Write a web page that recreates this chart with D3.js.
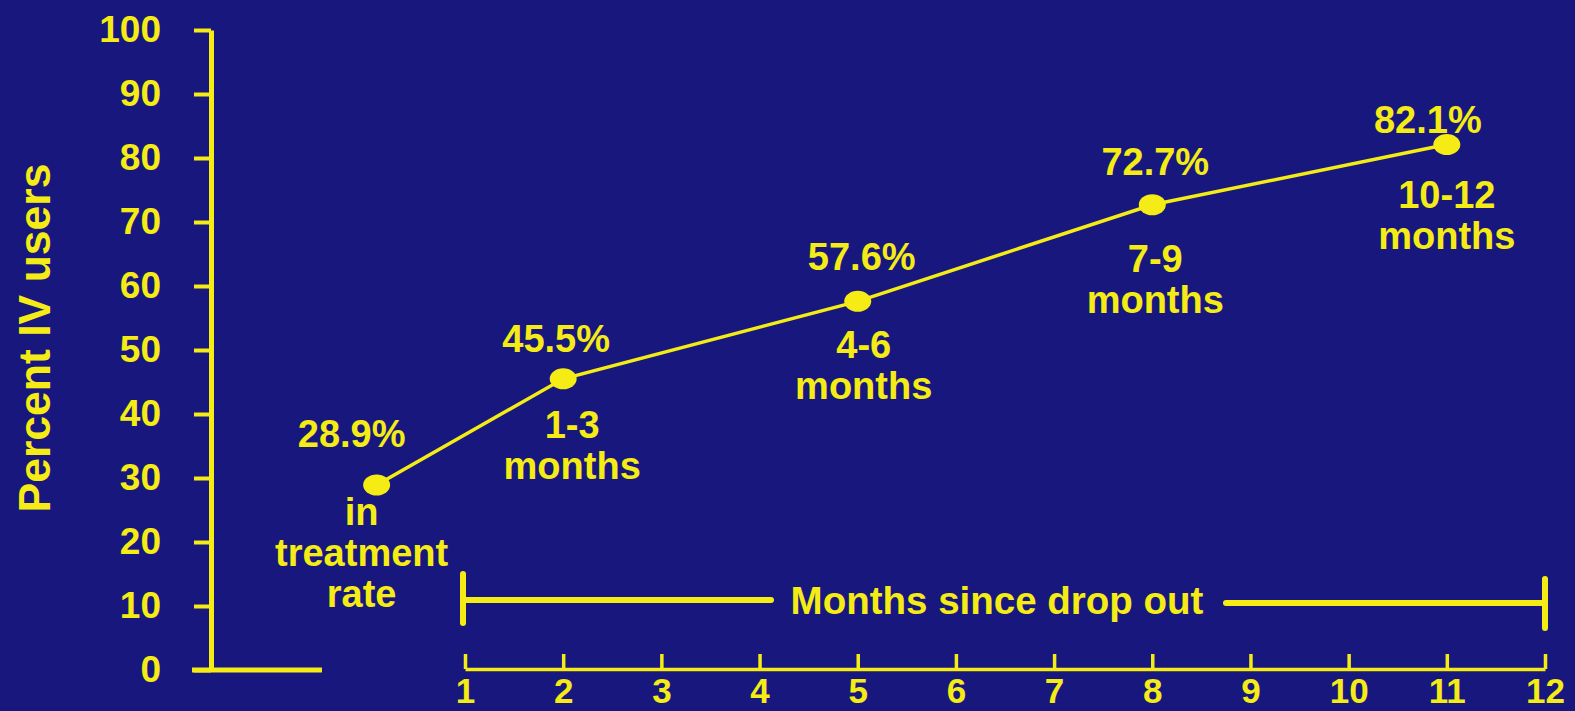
<!DOCTYPE html>
<html>
<head>
<meta charset="utf-8">
<script src="https://cdn.jsdelivr.net/npm/d3@7"></script>
<style>
  html, body { margin: 0; padding: 0; background: #18177d; }
  svg { display: block; }
  text { font-family: "Liberation Sans", Arial, Helvetica, sans-serif; font-weight: bold; }
</style>
</head>
<body>
<svg id="chart" width="1575" height="711"></svg>
<script>
// Share of IV drug users, in treatment and by months since dropping out
const periods = ["in treatment rate", "1-3 months", "4-6 months", "7-9 months", "10-12 months"];
const periodLines = [["in", "treatment", "rate"], ["1-3", "months"], ["4-6", "months"], ["7-9", "months"], ["10-12", "months"]];
const monthPos = [0.1, 2, 5, 8, 11];        // where each period sits on the month axis
const percentIV = [28.9, 45.5, 57.6, 72.7, 82.1];
const valueLabels = ["28.9%", "45.5%", "57.6%", "72.7%", "82.1%"];
const yTicks = [0, 10, 20, 30, 40, 50, 60, 70, 80, 90, 100];
const monthTicks = [1, 2, 3, 4, 5, 6, 7, 8, 9, 10, 11, 12];

// Hand-placed label nudges (dx, dy) relative to each point
const valueNudge = [[-25, -38], [-7, -27], [4, -31], [3, -30], [-19, -12]];
const periodNudge = [[-15, 40], [9, 59], [6, 57], [3, 67], [0, 63]];

const YELLOW = "#f4ec14";
const svg = d3.select("#chart");

const y = d3.scaleLinear().domain([0, 100]).range([670, 30]);
const x = d3.scaleLinear().domain([1, 12]).range([465, 1545]);

// Y axis
const yAxis = d3.axisLeft(y).tickValues(yTicks).tickSize(17).tickSizeOuter(0).tickPadding(33);
const gy = svg.append("g").attr("transform", "translate(211,0)").call(yAxis);
gy.select(".domain").attr("stroke", YELLOW).attr("stroke-width", 5);
gy.selectAll(".tick line").attr("stroke", YELLOW).attr("stroke-width", 4);
gy.selectAll(".tick text").attr("fill", YELLOW).attr("font-size", 37)
  .attr("font-family", "Liberation Sans, Arial, sans-serif").attr("font-weight", "bold");

// short baseline segment under the in-treatment point
svg.append("line").attr("x1", 192).attr("x2", 322).attr("y1", y(0)).attr("y2", y(0))
  .attr("stroke", YELLOW).attr("stroke-width", 5);

// Y axis title
svg.append("text")
  .attr("transform", `translate(50,338) rotate(-90)`)
  .attr("text-anchor", "middle")
  .attr("fill", YELLOW).attr("font-size", 44.5)
  .text("Percent IV users");

// Month axis
const xAxis = d3.axisBottom(x).tickValues(monthTicks).tickSizeInner(-15).tickSizeOuter(0).tickPadding(9);
const gx = svg.append("g").attr("transform", "translate(0,669)").call(xAxis);
gx.select(".domain").attr("stroke", YELLOW).attr("stroke-width", 3.5);
gx.selectAll(".tick line").attr("stroke", YELLOW).attr("stroke-width", 3.5);
gx.selectAll(".tick text").attr("fill", YELLOW).attr("font-size", 35)
  .attr("font-family", "Liberation Sans, Arial, sans-serif").attr("font-weight", "bold");

// "Months since drop out" bracket
const bracket = svg.append("g").attr("stroke", YELLOW).attr("stroke-width", 6).attr("stroke-linecap", "round");
bracket.append("line").attr("x1", x(1) - 2).attr("x2", x(1) - 2).attr("y1", 574).attr("y2", 623);
bracket.append("line").attr("x1", x(1) - 2).attr("x2", 771).attr("y1", 600).attr("y2", 600);
bracket.append("line").attr("x1", 1226).attr("x2", x(12)).attr("y1", 603).attr("y2", 603);
bracket.append("line").attr("x1", x(12)).attr("x2", x(12)).attr("y1", 579).attr("y2", 628);
svg.append("text").attr("x", 997).attr("y", 614).attr("text-anchor", "middle")
  .attr("fill", YELLOW).attr("font-size", 38.5).text("Months since drop out");

// Data line and points
const pts = percentIV.map((v, i) => ({ v, i, px: x(monthPos[i]), py: y(v) }));
svg.append("path")
  .datum(pts)
  .attr("fill", "none").attr("stroke", YELLOW).attr("stroke-width", 3.5)
  .attr("d", d3.line().x(d => d.px).y(d => d.py));
svg.selectAll("ellipse.pt").data(pts).join("ellipse")
  .attr("class", "pt")
  .attr("cx", d => d.px).attr("cy", d => d.py)
  .attr("rx", 13.5).attr("ry", 10.5)
  .attr("fill", YELLOW);

// Value labels above points
svg.selectAll("text.val").data(pts).join("text")
  .attr("class", "val")
  .attr("x", d => d.px + valueNudge[d.i][0])
  .attr("y", d => d.py + valueNudge[d.i][1])
  .attr("text-anchor", "middle").attr("fill", YELLOW).attr("font-size", 38)
  .text(d => valueLabels[d.i]);

// Period labels below points
const per = svg.selectAll("text.per").data(pts).join("text")
  .attr("class", "per")
  .attr("text-anchor", "middle").attr("fill", YELLOW).attr("font-size", 38)
  .attr("aria-label", d => periods[d.i]);
per.each(function(d) {
  const t = d3.select(this);
  periodLines[d.i].forEach((line, k) => {
    t.append("tspan")
      .attr("x", d.px + periodNudge[d.i][0])
      .attr("y", d.py + periodNudge[d.i][1] + k * 41)
      .text(line);
  });
});
</script>
</body>
</html>
